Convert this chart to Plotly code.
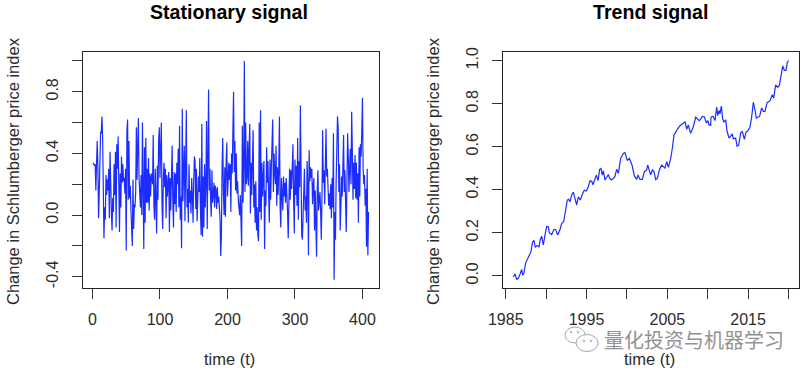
import plotly.graph_objects as go

stationary = [
 .34,.33,.32,.33,.16,.33,.48,.32,-.02,.14,.37,.54,.53,.64,.51,.05,-.15,.05,-.03,.26,
 .13,.23,.16,.30,-.02,.41,.12,.02,-.10,.11,.02,.33,.13,.41,-.08,.46,.30,.51,.20,-.11,
 .27,.05,.38,.21,.33,.22,.24,.14,.30,-.23,.55,.62,.10,.48,.11,.19,.03,-.05,-.20,.23,
 -.09,.07,.05,.15,.57,.23,.39,.63,.24,.10,.05,.26,.00,.60,.05,-.22,.44,-.05,.50,.08,
 .30,.08,.37,.03,.27,.12,.25,.27,.20,.52,.06,-.03,.30,.05,-.12,.32,.10,.48,.57,.24,
 .40,.60,.07,-.09,.24,.34,.18,.30,-.02,.26,.12,.22,.28,-.11,.24,.03,.18,.45,.09,-.08,
 .28,.07,.27,.02,.34,.20,.43,.05,.58,-.03,.12,-.215,.69,.09,.29,.45,-.04,.28,.68,.05,
 .17,-.05,.33,.08,.16,.01,.24,.13,-.05,.22,.38,.35,.04,.30,-.04,.10,.25,.15,.37,.02,
 -.13,.59,-.14,.25,-.08,.33,.05,.20,.61,-.09,.43,.815,.16,.30,.10,-.01,.29,.08,.13,.21,
 .05,.19,.16,.04,.18,.08,.12,.05,-.02,-.265,-.13,.31,.50,.14,.00,.31,-.01,.34,.47,.12,
 .27,.34,.23,.33,.02,.40,.27,.50,.80,.28,.48,.16,.40,.14,.22,.10,.05,.00,.13,-.06,
 -.20,.58,.08,.33,1.0,.15,.60,.20,.25,.48,.19,.42,.59,.01,.34,.13,.28,.55,.05,.20,
 -.05,.22,-.10,.05,-.13,-.17,.60,.02,.68,-.03,.34,.12,.25,.35,-.22,.16,.06,.44,.21,.35,
 .13,-.05,.36,.10,.31,.50,.62,.15,.40,.28,.20,.45,.06,.31,.13,.30,.64,.05,-.08,.24,
 .10,.03,.25,.12,.21,.08,.24,.15,.02,-.15,.20,.30,.10,.29,.17,.34,.46,.10,-.12,.36,
 .13,.32,.06,.50,-.03,.35,.18,.71,.20,-.13,-.16,.05,.16,.30,.03,.12,-.05,.35,.20,-.26,
 .42,.22,.31,.24,.30,.07,.19,.24,-.10,.16,-.06,-.27,.16,.29,.03,.11,.15,.03,-.16,.11,
 .55,.21,.29,.07,.30,.56,.25,.30,.18,.06,.14,.04,.20,-.02,.24,.05,.53,-.42,.02,-.16,
 .22,.38,.64,.57,.15,.33,-.10,.05,.25,.12,.33,.52,.15,.29,.08,-.11,.22,.53,.38,.15,
 .31,.43,.20,.67,.42,.10,.34,.17,.39,.11,.34,.10,.27,-.05,.44,.12,.46,.38,.55,.76,
 .30,.20,.26,.06,.17,-.205,.30,-.26,.02,
]
time_index = list(range(1, len(stationary) + 1))

trend_years = [
 1985.94,1986.15,1986.35,1986.56,1986.81,1986.97,1987.10,1987.22,1987.47,1987.72,
 1988.00,1988.13,1988.33,1988.50,1988.66,1988.87,1989.12,1989.28,1989.45,1989.65,
 1989.86,1990.07,1990.27,1990.40,1990.69,1990.97,1991.18,1991.43,1991.72,1991.92,
 1992.17,1992.38,1992.62,1992.79,1992.95,1993.16,1993.37,1993.57,1993.78,1993.98,
 1994.23,1994.52,1994.73,1994.98,1995.22,1995.43,1995.64,1995.80,1996.05,1996.21,
 1996.42,1996.63,1996.79,1996.96,1997.08,1997.29,1997.49,1997.70,1997.86,
 1998.11,1998.49,1998.73,1998.94,1999.23,1999.56,1999.76,2000.05,2000.30,2000.63,
 2000.92,2001.21,2001.37,2001.62,2001.91,2002.16,2002.45,2002.57,2002.73,2002.94,
 2003.15,2003.35,2003.56,2003.77,2004.01,2004.30,2004.71,2004.92,2005.13,2005.42,
 2005.62,2005.83,2006.24,2006.57,2006.98,2007.19,2007.40,2007.60,2007.89,2008.22,
 2008.51,2008.76,2008.96,
 2009.05,2009.34,2009.59,2009.83,2010.00,2010.16,2010.37,2010.41,2010.66,2010.91,
 2011.11,2011.24,2011.40,2011.52,2011.69,2011.85,2012.02,2012.23,2012.39,2012.64,
 2012.84,2013.05,2013.17,2013.46,2013.63,2013.83,2014.08,2014.29,2014.54,2014.74,
 2014.95,2015.24,2015.44,2015.65,2015.86,2016.02,2016.43,2016.68,2016.89,2017.09,
 2017.34,2017.71,2018.00,2018.17,2018.41,2018.66,2018.87,2019.07,2019.28,2019.49,
 2019.69,2019.86,2020.02,
]
trend_values = [
 -.005,.008,-.017,-.012,.011,.029,.003,.008,.060,.081,
 .096,.112,.158,.163,.132,.141,.135,.169,.184,.143,
 .189,.229,.228,.200,.192,.215,.215,.189,.215,.243,
 .251,.302,.352,.355,.344,.375,.389,.360,.329,.367,
 .352,.383,.398,.394,.414,.442,.439,.423,.457,.468,
 .442,.495,.499,.468,.488,.445,.457,.471,.453,
 .445,.458,.495,.476,.546,.569,.573,.535,.546,.515,
 .464,.448,.469,.448,.448,.484,.492,.515,.492,.469,
 .492,.484,.448,.453,.492,.515,.500,.531,.504,.546,
 .593,.655,.681,.698,.709,.717,.681,.701,.662,.693,
 .737,.728,.721,
 .725,.741,.738,.711,.722,.702,.699,.738,.742,.722,
 .784,.745,.769,.753,.789,.730,.714,.725,.673,.640,
 .649,.660,.637,.640,.603,.606,.665,.671,.634,.668,
 .673,.691,.738,.807,.769,.733,.742,.780,.764,.764,
 .804,.814,.842,.826,.888,.876,.885,.931,.975,.955,
 .955,.993,1.001,
]

left_titles = ["Stationary signal", "Trend signal"]
y_title = "Change in Schlumberger price index"
x_title = "time (t)"
left_xticks = [0, 100, 200, 300, 400]
left_yticks = [-0.4, -0.2, 0.0, 0.2, 0.4, 0.6, 0.8, 1.0]
left_yticktext = ["-0.4", "", "0.0", "", "0.4", "", "0.8", ""]
right_xticks = [1985, 1990, 1995, 2000, 2005, 2010, 2015, 2020]
right_xticktext = ["1985", "", "1995", "", "2005", "", "2015", ""]
right_yticks = [0.0, 0.2, 0.4, 0.6, 0.8, 1.0]
right_yticktext = ["0.0", "0.2", "0.4", "0.6", "0.8", "1.0"]
watermark = "量化投资与机器学习"

W, H = 810, 375
BLUE = "#1a2cff"
INK = "#2b2b2b"
FONT = "Liberation Sans"

def px(x): return x / W
def py(y): return 1 - y / H

fig = go.Figure()
fig.add_trace(go.Scatter(x=time_index, y=stationary, mode="lines",
                         line=dict(color=BLUE, width=1.2), xaxis="x", yaxis="y", showlegend=False))
fig.add_trace(go.Scatter(x=trend_years, y=trend_values, mode="lines",
                         line=dict(color=BLUE, width=1.2), xaxis="x2", yaxis="y2", showlegend=False))

axis = dict(showgrid=False, zeroline=False, showline=True, mirror=True, linecolor="#222222",
            linewidth=1, ticks="outside", ticklen=10, tickwidth=1, tickcolor="#333333",
            automargin=False, ticklabelstandoff=7, tickfont=dict(family=FONT, size=16, color=INK))

fig.update_layout(
    width=W, height=H, margin=dict(l=0, r=0, t=0, b=0), autosize=False,
    paper_bgcolor="white", plot_bgcolor="white", showlegend=False,
    xaxis=dict(axis, domain=[px(82.5), px(379)], range=[-14.8, 424.5],
               tickmode="array", tickvals=left_xticks, ticktext=[str(v) for v in left_xticks],
               tickangle=0, anchor="y"),
    yaxis=dict(axis, domain=[py(288), py(51.5)], range=[-0.473, 1.061],
               tickmode="array", tickvals=left_yticks, ticktext=left_yticktext,
               tickangle=-90, anchor="x"),
    xaxis2=dict(axis, domain=[px(502.5), px(799)], range=[1984.6, 2021.3],
                tickmode="array", tickvals=right_xticks, ticktext=right_xticktext,
                tickangle=0, anchor="y2"),
    yaxis2=dict(axis, domain=[py(288), py(51.5)], range=[-0.057, 1.0428],
                tickmode="array", tickvals=right_yticks, ticktext=right_yticktext,
                tickangle=-90, anchor="x2"),
)

def note(text, x, y, size, color=INK, bold=False, angle=0, family=FONT):
    fig.add_annotation(text=f"<b>{text}</b>" if bold else text, x=px(x), y=py(y),
                       xref="paper", yref="paper", showarrow=False, textangle=angle,
                       xanchor="center", yanchor="middle",
                       font=dict(family=family, size=size, color=color))

note(left_titles[0], 229, 12, 19.6, "#000000", bold=True)
note(left_titles[1], 650, 12, 19.6, "#000000", bold=True)
note(y_title, 13, 171, 16.5, angle=-90)
note(y_title, 433, 171, 16.5, angle=-90)
note(x_title, 229, 359, 16.5)
note(x_title, 649, 359, 16.5)

# watermark
note(watermark, 694, 339, 20, "#929292", family="Noto Sans CJK SC")
def ellipse(cx, cy, rx, ry):
    fig.add_shape(type="circle", xref="paper", yref="paper",
                  x0=px(cx - rx), x1=px(cx + rx), y0=py(cy + ry), y1=py(cy - ry),
                  line=dict(color="#a8a8a8", width=1), fillcolor="rgba(255,255,255,0.85)")
ellipse(575, 335, 10, 8)
ellipse(587, 343, 11, 8.5)
for cx, cy in [(571, 332), (578, 332), (584, 341), (591, 341)]:
    ellipse(cx, cy, 0.8, 0.8)

fig.write_html("out.html", config={"displayModeBar": False},
               post_script="document.body.style.margin='0';")
